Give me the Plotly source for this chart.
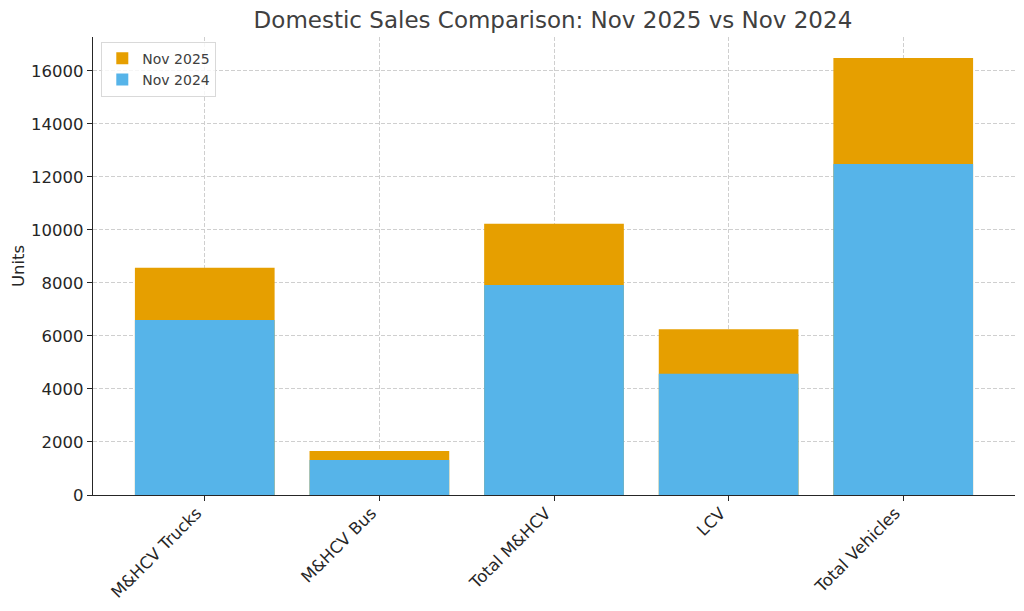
import plotly.graph_objects as go

categories = ["M&HCV Trucks", "M&HCV Bus", "Total M&HCV", "LCV", "Total Vehicles"]
nov_2025 = [8575, 1660, 10235, 6255, 16490]
nov_2024 = [6600, 1320, 7920, 4570, 12490]

fig = go.Figure()
fig.add_trace(go.Bar(x=categories, y=nov_2025, name="Nov 2025",
                     marker=dict(color="#E69F00", line=dict(width=0)), width=0.8))
fig.add_trace(go.Bar(x=categories, y=nov_2024, name="Nov 2024",
                     marker=dict(color="#56B4E9", line=dict(width=0)), width=0.8))

font = "DejaVu Sans"
grid = dict(showgrid=True, gridcolor="#cfcfcf", griddash="4px,2px", gridwidth=0.8)
fig.update_layout(
    barmode="overlay",
    width=1024, height=611,
    margin=dict(l=93, r=9, t=37, b=116),
    paper_bgcolor="white", plot_bgcolor="white",
    font=dict(family=font, size=16.5, color="#262626"),
    title=dict(text="Domestic Sales Comparison: Nov 2025 vs Nov 2024",
               x=0.54, xanchor="center", y=0.967, yanchor="middle",
               font=dict(size=23, color="#404040")),
    legend=dict(x=0.009, y=0.99, xanchor="left", yanchor="top",
                bgcolor="rgba(255,255,255,0.8)", bordercolor="#d9d9d9", borderwidth=1,
                font=dict(size=14, color="#404040"), traceorder="normal",
                tracegroupgap=0),
    xaxis=dict(range=[-0.64, 4.64], tickangle=-45, showline=True, linecolor="#262626",
               linewidth=1.2, ticks="outside", ticklen=5, tickcolor="#262626",
               tickfont=dict(size=16.5), automargin=False, ticklabelshift=-8,
               ticklabelstandoff=-4, **grid),
    yaxis=dict(range=[0, 17280], dtick=2000, showline=True, linecolor="#262626",
               linewidth=1.2, ticks="outside", ticklen=5, tickcolor="#262626",
               zeroline=False, tickformat="d", automargin=False,
               title=dict(text="Units", font=dict(size=16.5), standoff=2),
               tickfont=dict(size=16.5), **grid),
)
fig.write_html("out.html", config={"displayModeBar": False},
               post_script="document.body.style.margin='0';")
